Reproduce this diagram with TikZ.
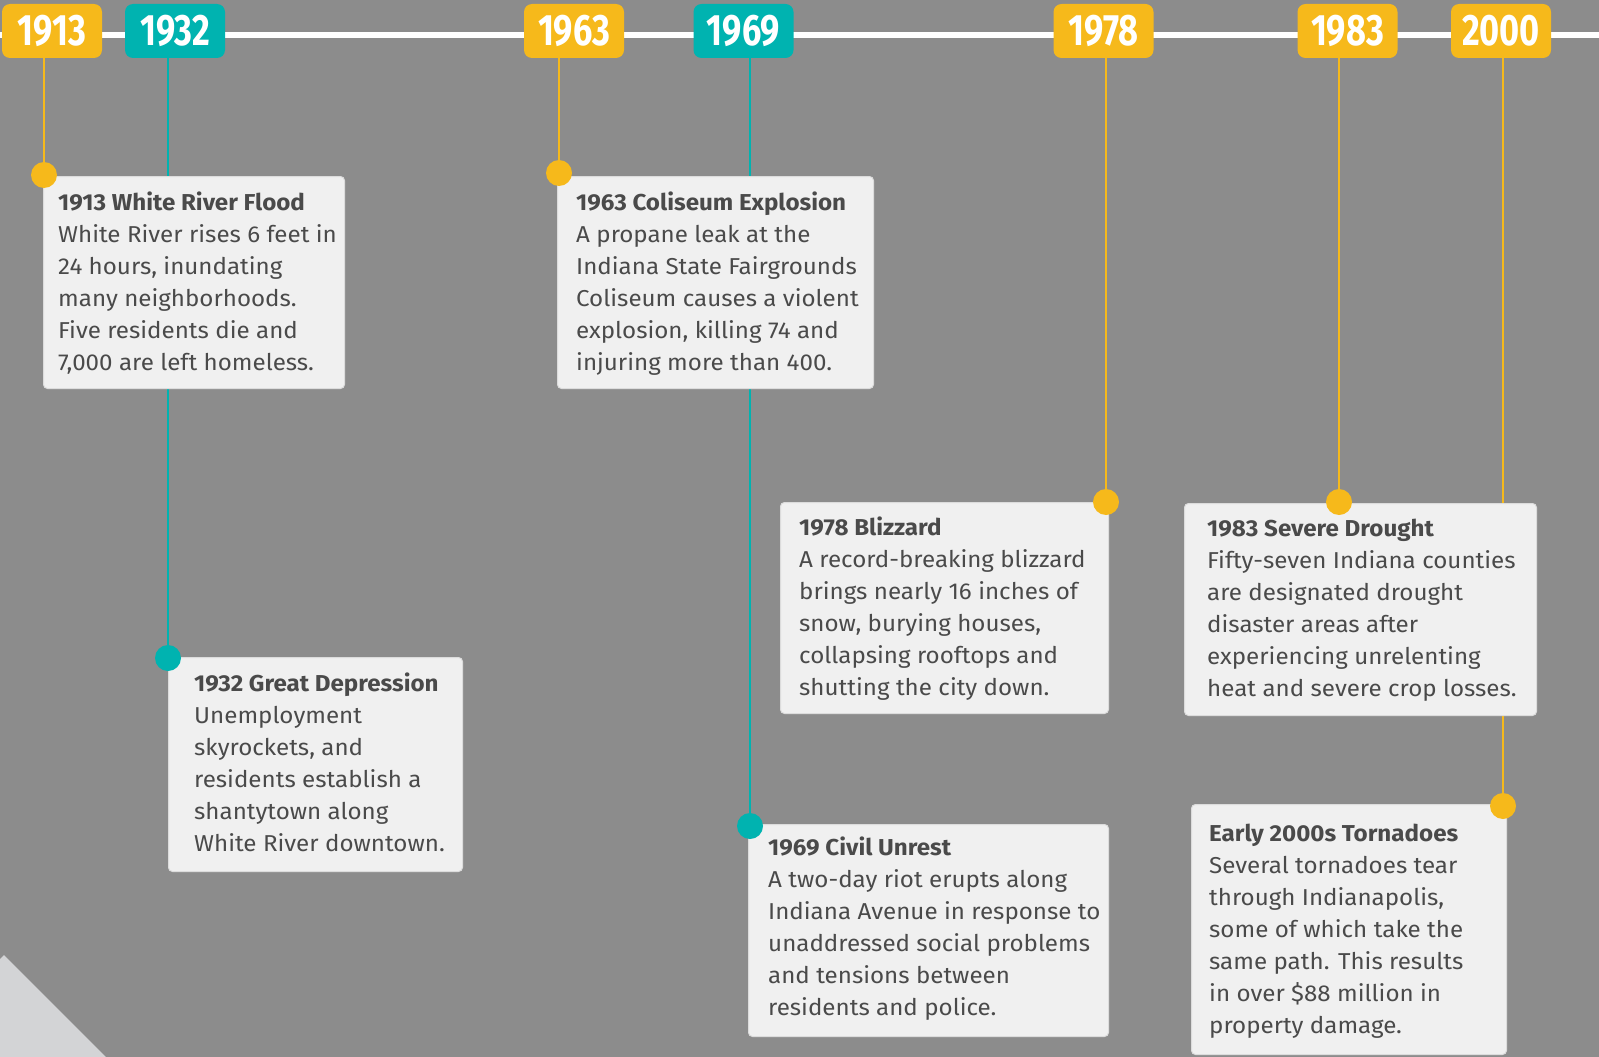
\documentclass[tikz,border=0pt]{standalone}
\usepackage{fontspec}
\setmainfont[FakeStretch=1.05]{Fira Sans}
\newfontfamily\yearfont[FakeStretch=0.78]{Fira Sans}
\usetikzlibrary{positioning}

\definecolor{bggray}{HTML}{8C8C8C}
\definecolor{cardfill}{HTML}{F0F0F0}
\definecolor{cardline}{HTML}{DCDCDC}
\definecolor{ink}{HTML}{4A4A4A}
\definecolor{sun}{HTML}{F6B91B}
\definecolor{teal}{HTML}{00B3B0}
\definecolor{corner}{HTML}{D3D4D6}

\pgfdeclarelayer{back}
\pgfdeclarelayer{stems}
\pgfsetlayers{back,stems,main}

\tikzset{
  year/.style={fill=#1, rounded corners=8pt, minimum width=100pt, minimum height=54pt,
    inner sep=0pt, text=white, font=\yearfont\bfseries\fontsize{44}{44}\selectfont},
  card/.style={fill=cardfill, draw=cardline, line width=1pt, rounded corners=4pt,
    anchor=north west, inner sep=0pt},
  info/.style={anchor=north west, align=left, inner sep=0pt, text=ink,
    font=\fontsize{23}{32}\selectfont},
  dot/.style={circle, fill=#1, minimum size=26pt, inner sep=0pt},
  stem/.style={draw=#1, line width=2pt}
}

\begin{document}
\begin{tikzpicture}[x=1pt,y=-1pt]
  \useasboundingbox (0,0) rectangle (1599,1057);
  % background
  \begin{pgfonlayer}{back}
    \fill[bggray] (0,0) rectangle (1599,1057);
    \fill[corner] (0,959) -- (4,955) -- (106,1057) -- (0,1057) -- cycle;
    % timeline
    \draw[white, line width=6pt] (0,35) -- (1599,35);
  \end{pgfonlayer}

  % year tags
  \node[year=sun]  (y1913) at (52,31)     {1913};
  \node[year=teal] (y1932) at (175,31)    {1932};
  \node[year=sun]  (y1963) at (574,31)    {1963};
  \node[year=teal] (y1969) at (743.5,31)  {1969};
  \node[year=sun]  (y1978) at (1103.5,31) {1978};
  \node[year=sun]  (y1983) at (1347.5,31) {1983};
  \node[year=sun]  (y2000) at (1501,31)   {2000};

  % cards
  \node[card, minimum width=301pt, minimum height=212pt] (c1913) at (43,176) {};
  \node[card, minimum width=294pt, minimum height=214pt] (c1932) at (168,657) {};
  \node[card, minimum width=316pt, minimum height=212pt] (c1963) at (557,176) {};
  \node[card, minimum width=360pt, minimum height=212pt] (c1969) at (748,824) {};
  \node[card, minimum width=328pt, minimum height=211pt] (c1978) at (780,502) {};
  \node[card, minimum width=352pt, minimum height=212pt] (c1983) at (1184,503) {};
  \node[card, minimum width=315pt, minimum height=250pt] (c2000) at (1191,804) {};

  \node[info] (t1913) at (58,192) {\textbf{1913 White River Flood}\\
    White River rises 6 feet in\\ 24 hours, inundating\\ many neighborhoods.\\
    Five residents die and\\ 7,000 are left homeless.};
  \node[info] (t1932) at (194,673) {\textbf{1932 Great Depression}\\
    Unemployment\\ skyrockets, and\\ residents establish a\\
    shantytown along\\ White River downtown.};
  \node[info] (t1963) at (576,192) {\textbf{1963 Coliseum Explosion}\\
    A propane leak at the\\ Indiana State Fairgrounds\\ Coliseum causes a violent\\
    explosion, killing 74 and\\ injuring more than 400.};
  \node[info] (t1969) at (768,837) {\textbf{1969 Civil Unrest}\\
    A two-day riot erupts along\\ Indiana Avenue in response to\\
    unaddressed social problems\\ and tensions between\\ residents and police.};
  \node[info] (t1978) at (799,517) {\textbf{1978 Blizzard}\\
    A record-breaking blizzard\\ brings nearly 16 inches of\\ snow, burying houses,\\
    collapsing rooftops and\\ shutting the city down.};
  \node[info] (t1983) at (1207,519) {\textbf{1983 Severe Drought}\\
    Fifty-seven Indiana counties\\ are designated drought\\ disaster areas after\\
    experiencing unrelenting\\ heat and severe crop losses.};
  \node[info] (t2000) at (1209,824) {\textbf{Early 2000s Tornadoes}\\
    Several tornadoes tear\\ through Indianapolis,\\ some of which take the\\
    same path. This results\\ in over \$88 million in\\ property damage.};

  % dots
  \node[dot=sun]  (d1913) at (44,175)   {};
  \node[dot=teal] (d1932) at (168,658)  {};
  \node[dot=sun]  (d1963) at (559,173)  {};
  \node[dot=teal] (d1969) at (750,826)  {};
  \node[dot=sun]  (d1978) at (1106,502) {};
  \node[dot=sun]  (d1983) at (1339,502) {};
  \node[dot=sun]  (d2000) at (1503,806) {};

  % stems
  \begin{pgfonlayer}{stems}
    \draw[stem=sun]  (d1913) -- (d1913 |- y1913.south);
    \draw[stem=teal] (d1932) -- (d1932 |- y1932.south);
    \draw[stem=sun]  (d1963) -- (d1963 |- y1963.south);
    \draw[stem=teal] (d1969) -- (d1969 |- y1969.south);
    \draw[stem=sun]  (d1978) -- (d1978 |- y1978.south);
    \draw[stem=sun]  (d1983) -- (d1983 |- y1983.south);
    \draw[stem=sun]  (d2000) -- (d2000 |- y2000.south);
  \end{pgfonlayer}
\end{tikzpicture}
\end{document}
